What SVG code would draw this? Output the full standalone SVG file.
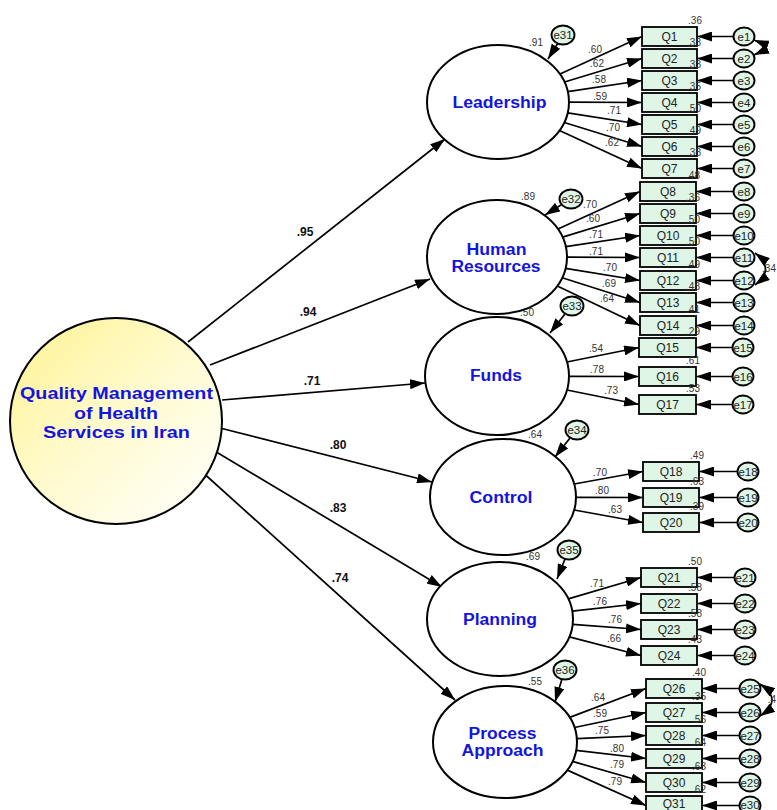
<svg xmlns="http://www.w3.org/2000/svg" width="777" height="810" viewBox="0 0 777 810">
<style>
.lat{fill:#fff;stroke:#000;stroke-width:2}
.lt{font-family:"Liberation Sans",Arial,sans-serif;font-weight:bold;fill:#1414e0;text-anchor:middle}
.box{fill:#dff5e6;stroke:#000;stroke-width:1.8}
.bt{font-family:"Liberation Sans",Arial,sans-serif;font-size:12px;fill:#222;text-anchor:middle}
.err{fill:#dff5e6;stroke:#000;stroke-width:1.9}
.et{font-family:"Liberation Sans",Arial,sans-serif;font-size:11.5px;fill:#222;text-anchor:middle}
.num{font-family:"Liberation Sans",Arial,sans-serif;font-size:10px;fill:#333;text-anchor:middle}
.sn{font-family:"Liberation Sans",Arial,sans-serif;font-size:12px;font-weight:bold;fill:#111;text-anchor:middle}
.p{stroke:#000;stroke-width:1.7;fill:none;marker-end:url(#ah)}
.cov{stroke:#000;stroke-width:1.7;fill:none;marker-end:url(#ah);marker-start:url(#ah)}
</style>
<defs>
<marker id="ah" markerUnits="userSpaceOnUse" markerWidth="15" markerHeight="10" viewBox="0 0 15 10" refX="15" refY="5" orient="auto-start-reverse"><path d="M0,0 L15,5 L0,10 z" fill="#000"/></marker>
<linearGradient id="gy" x1="0" y1="0" x2="1" y2="1"><stop offset="0" stop-color="#fff290"/><stop offset="0.5" stop-color="#fffbd0"/><stop offset="1" stop-color="#ffffff"/></linearGradient>
</defs>

<g id="connectors">
<line class="p" x1="188" y1="342" x2="445" y2="139"/>
<line class="p" x1="210" y1="365" x2="430" y2="279"/>
<line class="p" x1="222" y1="400" x2="425" y2="383"/>
<line class="p" x1="220" y1="428" x2="432" y2="482"/>
<line class="p" x1="213" y1="450" x2="442" y2="587"/>
<line class="p" x1="200" y1="470" x2="455" y2="700"/>
<line class="p" x1="560" y1="74" x2="642" y2="36.5"/>
<line class="p" x1="564.5" y1="82" x2="642" y2="58.5"/>
<line class="p" x1="567.8" y1="91.6" x2="642" y2="80.5"/>
<line class="p" x1="569" y1="102.2" x2="642" y2="102.5"/>
<line class="p" x1="567.7" y1="112.9" x2="642" y2="124.5"/>
<line class="p" x1="564.3" y1="122.5" x2="642" y2="146.5"/>
<line class="p" x1="559.5" y1="130.4" x2="642" y2="168.5"/>
<line class="p" x1="558" y1="229" x2="640" y2="191.5"/>
<line class="p" x1="562.6" y1="237.1" x2="640" y2="213.5"/>
<line class="p" x1="565.8" y1="246.6" x2="640" y2="235.5"/>
<line class="p" x1="567" y1="257.2" x2="640" y2="257.5"/>
<line class="p" x1="565.6" y1="268.3" x2="640" y2="280.5"/>
<line class="p" x1="562.2" y1="277.7" x2="640" y2="302.5"/>
<line class="p" x1="557.3" y1="285.9" x2="640" y2="325.5"/>
<line class="p" x1="566.9" y1="362" x2="639" y2="347.5"/>
<line class="p" x1="569" y1="376.3" x2="639" y2="376.5"/>
<line class="p" x1="566.9" y1="390" x2="639" y2="404.5"/>
<line class="p" x1="574.2" y1="484" x2="643" y2="471.5"/>
<line class="p" x1="576" y1="497.3" x2="643" y2="497.5"/>
<line class="p" x1="574.2" y1="510" x2="643" y2="522.5"/>
<line class="p" x1="568.3" y1="598.9" x2="641" y2="577.5"/>
<line class="p" x1="572.3" y1="611.1" x2="641" y2="603.5"/>
<line class="p" x1="572.7" y1="624.4" x2="641" y2="629.5"/>
<line class="p" x1="569.3" y1="636.9" x2="641" y2="655.5"/>
<line class="p" x1="569.7" y1="717.4" x2="646" y2="688.5"/>
<line class="p" x1="574.5" y1="727.5" x2="646" y2="712.5"/>
<line class="p" x1="576.9" y1="738.7" x2="646" y2="735.5"/>
<line class="p" x1="576.2" y1="750.3" x2="646" y2="758.5"/>
<line class="p" x1="572.5" y1="761.4" x2="646" y2="782.5"/>
<line class="p" x1="567.3" y1="770.1" x2="646" y2="805.5"/>
<line class="p" x1="558" y1="43" x2="548" y2="59"/>
<line class="p" x1="561" y1="205" x2="545" y2="215"/>
<line class="p" x1="565" y1="314" x2="550" y2="333"/>
<line class="p" x1="570" y1="438" x2="555" y2="457"/>
<line class="p" x1="565" y1="559" x2="557" y2="579"/>
<line class="p" x1="562" y1="679" x2="555" y2="702"/>
<line class="p" x1="733.5" y1="36.5" x2="697" y2="36.5"/>
<line class="p" x1="733.5" y1="58.5" x2="697" y2="58.5"/>
<line class="p" x1="733.5" y1="80.5" x2="697" y2="80.5"/>
<line class="p" x1="733.5" y1="102.5" x2="697" y2="102.5"/>
<line class="p" x1="733.5" y1="124.5" x2="697" y2="124.5"/>
<line class="p" x1="733.5" y1="146.5" x2="697" y2="146.5"/>
<line class="p" x1="733.5" y1="168.5" x2="697" y2="168.5"/>
<line class="p" x1="733.5" y1="191.5" x2="696" y2="191.5"/>
<line class="p" x1="733.5" y1="213.5" x2="696" y2="213.5"/>
<line class="p" x1="733.5" y1="235.5" x2="696" y2="235.5"/>
<line class="p" x1="733.5" y1="257.5" x2="696" y2="257.5"/>
<line class="p" x1="733.5" y1="280.5" x2="696" y2="280.5"/>
<line class="p" x1="733.5" y1="302.5" x2="696" y2="302.5"/>
<line class="p" x1="733.5" y1="325.5" x2="696" y2="325.5"/>
<line class="p" x1="732.5" y1="347.5" x2="696" y2="347.5"/>
<line class="p" x1="732.5" y1="376.5" x2="696" y2="376.5"/>
<line class="p" x1="732.5" y1="404.5" x2="696" y2="404.5"/>
<line class="p" x1="737.5" y1="471.5" x2="699" y2="471.5"/>
<line class="p" x1="737.5" y1="497.5" x2="699" y2="497.5"/>
<line class="p" x1="737.5" y1="522.5" x2="699" y2="522.5"/>
<line class="p" x1="734.5" y1="577.5" x2="697" y2="577.5"/>
<line class="p" x1="734.5" y1="603.5" x2="697" y2="603.5"/>
<line class="p" x1="734.5" y1="629.5" x2="697" y2="629.5"/>
<line class="p" x1="734.5" y1="655.5" x2="697" y2="655.5"/>
<line class="p" x1="739.5" y1="688.5" x2="702" y2="688.5"/>
<line class="p" x1="739.5" y1="712.5" x2="702" y2="712.5"/>
<line class="p" x1="739.5" y1="735.5" x2="702" y2="735.5"/>
<line class="p" x1="739.5" y1="758.5" x2="702" y2="758.5"/>
<line class="p" x1="739.5" y1="782.5" x2="702" y2="782.5"/>
<line class="p" x1="739.5" y1="805.5" x2="702" y2="805.5"/>
<path class="cov" d="M754,40 Q772,47 754,55"/>
<path class="cov" d="M755,253 Q776,269 755,285"/>
<path class="cov" d="M760,684 Q784,700 760,716"/>
</g>

<g id="labels-structural">
<text class="sn" x="305" y="236">.95</text>
<text class="sn" x="308" y="316">.94</text>
<text class="sn" x="312" y="385">.71</text>
<text class="sn" x="338" y="449">.80</text>
<text class="sn" x="338" y="512">.83</text>
<text class="sn" x="340" y="582">.74</text>
</g>

<g id="labels-loadings">
<text class="num" x="595" y="52.5">.60</text>
<text class="num" x="597" y="66.5">.62</text>
<text class="num" x="599" y="82.5">.58</text>
<text class="num" x="600" y="99.5">.59</text>
<text class="num" x="614" y="113.5">.71</text>
<text class="num" x="613" y="130.5">.70</text>
<text class="num" x="612" y="145.5">.62</text>
<text class="num" x="590" y="207.5">.70</text>
<text class="num" x="593" y="221.5">.60</text>
<text class="num" x="596" y="237.5">.71</text>
<text class="num" x="596" y="254.5">.71</text>
<text class="num" x="610" y="270.5">.70</text>
<text class="num" x="609" y="286.5">.69</text>
<text class="num" x="607" y="301.5">.64</text>
<text class="num" x="596" y="351.5">.54</text>
<text class="num" x="597" y="372.5">.78</text>
<text class="num" x="611" y="393.5">.73</text>
<text class="num" x="600" y="475.5">.70</text>
<text class="num" x="602" y="493.5">.80</text>
<text class="num" x="615" y="512.5">.63</text>
<text class="num" x="597" y="586.5">.71</text>
<text class="num" x="600" y="604.5">.76</text>
<text class="num" x="615" y="622.5">.76</text>
<text class="num" x="614" y="641.5">.66</text>
<text class="num" x="598" y="700.5">.64</text>
<text class="num" x="600" y="716.5">.59</text>
<text class="num" x="602" y="733.5">.75</text>
<text class="num" x="617" y="751.5">.80</text>
<text class="num" x="617" y="767.5">.79</text>
<text class="num" x="615" y="784.5">.79</text>
<text class="num" x="536" y="46">.91</text>
<text class="num" x="528" y="200">.89</text>
<text class="num" x="527" y="316">.50</text>
<text class="num" x="535" y="438">.64</text>
<text class="num" x="533" y="560">.69</text>
<text class="num" x="535" y="685">.55</text>
<text class="num" x="769" y="272">.34</text>
<text class="num" x="772" y="703">.4</text>
</g>

<g id="G"><ellipse cx="116" cy="421" rx="106" ry="103" fill="url(#gy)" stroke="#000" stroke-width="2"/>
<text class="lt" x="116.5" y="399" font-size="17" textLength="193" lengthAdjust="spacingAndGlyphs">Quality Management</text>
<text class="lt" x="116" y="418.5" font-size="17" textLength="84" lengthAdjust="spacingAndGlyphs">of Health</text>
<text class="lt" x="116.5" y="437.5" font-size="17" textLength="147" lengthAdjust="spacingAndGlyphs">Services in Iran</text></g>

<g id="Leadership"><ellipse class="lat" cx="498" cy="102" rx="71" ry="57"/><text class="lt" x="499.5" y="108" font-size="16" textLength="94" lengthAdjust="spacingAndGlyphs">Leadership</text></g>
<g id="HumanResources"><ellipse class="lat" cx="497" cy="257" rx="70" ry="57"/><text class="lt" x="496.5" y="255" font-size="16" textLength="60" lengthAdjust="spacingAndGlyphs">Human</text><text class="lt" x="496" y="272" font-size="16" textLength="89" lengthAdjust="spacingAndGlyphs">Resources</text></g>
<g id="Funds"><ellipse class="lat" cx="497" cy="376" rx="72" ry="59"/><text class="lt" x="496" y="381" font-size="16" textLength="52" lengthAdjust="spacingAndGlyphs">Funds</text></g>
<g id="Control"><ellipse class="lat" cx="503" cy="497" rx="73" ry="58"/><text class="lt" x="501" y="503" font-size="16" textLength="63" lengthAdjust="spacingAndGlyphs">Control</text></g>
<g id="Planning"><ellipse class="lat" cx="500" cy="619" rx="73" ry="57"/><text class="lt" x="500" y="625" font-size="16" textLength="74" lengthAdjust="spacingAndGlyphs">Planning</text></g>
<g id="ProcessApproach"><ellipse class="lat" cx="505" cy="742" rx="72" ry="56"/><text class="lt" x="502.5" y="738.5" font-size="16" textLength="68" lengthAdjust="spacingAndGlyphs">Process</text><text class="lt" x="502.5" y="756" font-size="16" textLength="82" lengthAdjust="spacingAndGlyphs">Approach</text></g>

<g id="latent-errors">
<g id="e31"><ellipse class="err" cx="563" cy="35" rx="11.5" ry="9.5"/><text class="et" x="563" y="39">e31</text></g>
<g id="e32"><ellipse class="err" cx="571" cy="199" rx="11.5" ry="9.5"/><text class="et" x="571" y="203">e32</text></g>
<g id="e33"><ellipse class="err" cx="572" cy="306" rx="11.5" ry="9.5"/><text class="et" x="572" y="310">e33</text></g>
<g id="e34"><ellipse class="err" cx="577" cy="430" rx="11.5" ry="9.5"/><text class="et" x="577" y="434">e34</text></g>
<g id="e35"><ellipse class="err" cx="569" cy="550" rx="11.5" ry="9.5"/><text class="et" x="569" y="554">e35</text></g>
<g id="e36"><ellipse class="err" cx="565" cy="670" rx="11.5" ry="9.5"/><text class="et" x="565" y="674">e36</text></g>
</g>

<g id="indicators">
<g id="Q1"><rect class="box" x="642" y="27" width="55" height="19"/><text class="bt" x="669.5" y="41">Q1</text></g>
<g id="Q2"><rect class="box" x="642" y="49" width="55" height="19"/><text class="bt" x="669.5" y="63">Q2</text></g>
<g id="Q3"><rect class="box" x="642" y="71" width="55" height="19"/><text class="bt" x="669.5" y="85">Q3</text></g>
<g id="Q4"><rect class="box" x="642" y="93" width="55" height="19"/><text class="bt" x="669.5" y="107">Q4</text></g>
<g id="Q5"><rect class="box" x="642" y="115" width="55" height="19"/><text class="bt" x="669.5" y="129">Q5</text></g>
<g id="Q6"><rect class="box" x="642" y="137" width="55" height="19"/><text class="bt" x="669.5" y="151">Q6</text></g>
<g id="Q7"><rect class="box" x="642" y="159" width="55" height="19"/><text class="bt" x="669.5" y="173">Q7</text></g>
<g id="Q8"><rect class="box" x="640" y="182" width="56" height="19"/><text class="bt" x="668" y="196">Q8</text></g>
<g id="Q9"><rect class="box" x="640" y="204" width="56" height="19"/><text class="bt" x="668" y="218">Q9</text></g>
<g id="Q10"><rect class="box" x="640" y="226" width="56" height="19"/><text class="bt" x="668" y="240">Q10</text></g>
<g id="Q11"><rect class="box" x="640" y="248" width="56" height="19"/><text class="bt" x="668" y="262">Q11</text></g>
<g id="Q12"><rect class="box" x="640" y="271" width="56" height="19"/><text class="bt" x="668" y="285">Q12</text></g>
<g id="Q13"><rect class="box" x="640" y="293" width="56" height="19"/><text class="bt" x="668" y="307">Q13</text></g>
<g id="Q14"><rect class="box" x="640" y="316" width="56" height="19"/><text class="bt" x="668" y="330">Q14</text></g>
<g id="Q15"><rect class="box" x="639" y="338" width="57" height="19"/><text class="bt" x="667.5" y="352">Q15</text></g>
<g id="Q16"><rect class="box" x="639" y="367" width="57" height="19"/><text class="bt" x="667.5" y="381">Q16</text></g>
<g id="Q17"><rect class="box" x="639" y="395" width="57" height="19"/><text class="bt" x="667.5" y="409">Q17</text></g>
<g id="Q18"><rect class="box" x="643" y="462" width="56" height="19"/><text class="bt" x="671" y="476">Q18</text></g>
<g id="Q19"><rect class="box" x="643" y="488" width="56" height="19"/><text class="bt" x="671" y="502">Q19</text></g>
<g id="Q20"><rect class="box" x="643" y="513" width="56" height="19"/><text class="bt" x="671" y="527">Q20</text></g>
<g id="Q21"><rect class="box" x="641" y="568" width="56" height="19"/><text class="bt" x="669" y="582">Q21</text></g>
<g id="Q22"><rect class="box" x="641" y="594" width="56" height="19"/><text class="bt" x="669" y="608">Q22</text></g>
<g id="Q23"><rect class="box" x="641" y="620" width="56" height="19"/><text class="bt" x="669" y="634">Q23</text></g>
<g id="Q24"><rect class="box" x="641" y="646" width="56" height="19"/><text class="bt" x="669" y="660">Q24</text></g>
<g id="Q26"><rect class="box" x="646" y="679" width="56" height="19"/><text class="bt" x="674" y="693">Q26</text></g>
<g id="Q27"><rect class="box" x="646" y="703" width="56" height="19"/><text class="bt" x="674" y="717">Q27</text></g>
<g id="Q28"><rect class="box" x="646" y="726" width="56" height="19"/><text class="bt" x="674" y="740">Q28</text></g>
<g id="Q29"><rect class="box" x="646" y="749" width="56" height="19"/><text class="bt" x="674" y="763">Q29</text></g>
<g id="Q30"><rect class="box" x="646" y="773" width="56" height="19"/><text class="bt" x="674" y="787">Q30</text></g>
<g id="Q31"><rect class="box" x="646" y="796" width="56" height="19"/><text class="bt" x="674" y="808">Q31</text></g>
</g>

<g id="r2">
<text class="num" x="695" y="23.5">.36</text>
<text class="num" x="694" y="45.5">.38</text>
<text class="num" x="694" y="67.5">.33</text>
<text class="num" x="694" y="89.5">.35</text>
<text class="num" x="694" y="111.5">.50</text>
<text class="num" x="694" y="133.5">.49</text>
<text class="num" x="694" y="155.5">.38</text>
<text class="num" x="693" y="178.5">.48</text>
<text class="num" x="693" y="200.5">.36</text>
<text class="num" x="693" y="222.5">.50</text>
<text class="num" x="693" y="244.5">.50</text>
<text class="num" x="693" y="267.5">.49</text>
<text class="num" x="693" y="289.5">.48</text>
<text class="num" x="693" y="312.5">.41</text>
<text class="num" x="693" y="334.5">.29</text>
<text class="num" x="693" y="363.5">.61</text>
<text class="num" x="693" y="391.5">.53</text>
<text class="num" x="697" y="458.5">.49</text>
<text class="num" x="697" y="484.5">.63</text>
<text class="num" x="697" y="509.5">.39</text>
<text class="num" x="695" y="564.5">.50</text>
<text class="num" x="695" y="590.5">.58</text>
<text class="num" x="695" y="616.5">.58</text>
<text class="num" x="695" y="642.5">.43</text>
<text class="num" x="699" y="675.5">.40</text>
<text class="num" x="699" y="699.5">.35</text>
<text class="num" x="699" y="722.5">.56</text>
<text class="num" x="699" y="745.5">.64</text>
<text class="num" x="699" y="769.5">.63</text>
<text class="num" x="699" y="792.5">.62</text>
</g>

<g id="errors">
<g id="e1"><ellipse class="err" cx="744" cy="36.5" rx="10.5" ry="9"/><text class="et" x="744" y="40.5">e1</text></g>
<g id="e2"><ellipse class="err" cx="744" cy="58.5" rx="10.5" ry="9"/><text class="et" x="744" y="62.5">e2</text></g>
<g id="e3"><ellipse class="err" cx="744" cy="80.5" rx="10.5" ry="9"/><text class="et" x="744" y="84.5">e3</text></g>
<g id="e4"><ellipse class="err" cx="744" cy="102.5" rx="10.5" ry="9"/><text class="et" x="744" y="106.5">e4</text></g>
<g id="e5"><ellipse class="err" cx="744" cy="124.5" rx="10.5" ry="9"/><text class="et" x="744" y="128.5">e5</text></g>
<g id="e6"><ellipse class="err" cx="744" cy="146.5" rx="10.5" ry="9"/><text class="et" x="744" y="150.5">e6</text></g>
<g id="e7"><ellipse class="err" cx="744" cy="168.5" rx="10.5" ry="9"/><text class="et" x="744" y="172.5">e7</text></g>
<g id="e8"><ellipse class="err" cx="744" cy="191.5" rx="10.5" ry="9"/><text class="et" x="744" y="195.5">e8</text></g>
<g id="e9"><ellipse class="err" cx="744" cy="213.5" rx="10.5" ry="9"/><text class="et" x="744" y="217.5">e9</text></g>
<g id="e10"><ellipse class="err" cx="744" cy="235.5" rx="10.5" ry="9"/><text class="et" x="744" y="239.5">e10</text></g>
<g id="e11"><ellipse class="err" cx="744" cy="257.5" rx="10.5" ry="9"/><text class="et" x="744" y="261.5">e11</text></g>
<g id="e12"><ellipse class="err" cx="744" cy="280.5" rx="10.5" ry="9"/><text class="et" x="744" y="284.5">e12</text></g>
<g id="e13"><ellipse class="err" cx="744" cy="302.5" rx="10.5" ry="9"/><text class="et" x="744" y="306.5">e13</text></g>
<g id="e14"><ellipse class="err" cx="744" cy="325.5" rx="10.5" ry="9"/><text class="et" x="744" y="329.5">e14</text></g>
<g id="e15"><ellipse class="err" cx="743" cy="347.5" rx="10.5" ry="9"/><text class="et" x="743" y="351.5">e15</text></g>
<g id="e16"><ellipse class="err" cx="743" cy="376.5" rx="10.5" ry="9"/><text class="et" x="743" y="380.5">e16</text></g>
<g id="e17"><ellipse class="err" cx="743" cy="404.5" rx="10.5" ry="9"/><text class="et" x="743" y="408.5">e17</text></g>
<g id="e18"><ellipse class="err" cx="748" cy="471.5" rx="10.5" ry="9"/><text class="et" x="748" y="475.5">e18</text></g>
<g id="e19"><ellipse class="err" cx="748" cy="497.5" rx="10.5" ry="9"/><text class="et" x="748" y="501.5">e19</text></g>
<g id="e20"><ellipse class="err" cx="748" cy="522.5" rx="10.5" ry="9"/><text class="et" x="748" y="526.5">e20</text></g>
<g id="e21"><ellipse class="err" cx="745" cy="577.5" rx="10.5" ry="9"/><text class="et" x="745" y="581.5">e21</text></g>
<g id="e22"><ellipse class="err" cx="745" cy="603.5" rx="10.5" ry="9"/><text class="et" x="745" y="607.5">e22</text></g>
<g id="e23"><ellipse class="err" cx="745" cy="629.5" rx="10.5" ry="9"/><text class="et" x="745" y="633.5">e23</text></g>
<g id="e24"><ellipse class="err" cx="745" cy="655.5" rx="10.5" ry="9"/><text class="et" x="745" y="659.5">e24</text></g>
<g id="e25"><ellipse class="err" cx="750" cy="688.5" rx="10.5" ry="9"/><text class="et" x="750" y="692.5">e25</text></g>
<g id="e26"><ellipse class="err" cx="750" cy="712.5" rx="10.5" ry="9"/><text class="et" x="750" y="716.5">e26</text></g>
<g id="e27"><ellipse class="err" cx="750" cy="735.5" rx="10.5" ry="9"/><text class="et" x="750" y="739.5">e27</text></g>
<g id="e28"><ellipse class="err" cx="750" cy="758.5" rx="10.5" ry="9"/><text class="et" x="750" y="762.5">e28</text></g>
<g id="e29"><ellipse class="err" cx="750" cy="782.5" rx="10.5" ry="9"/><text class="et" x="750" y="786.5">e29</text></g>
<g id="e30"><ellipse class="err" cx="750" cy="805.5" rx="10.5" ry="9"/><text class="et" x="750" y="808.5">e30</text></g>
</g>
</svg>
